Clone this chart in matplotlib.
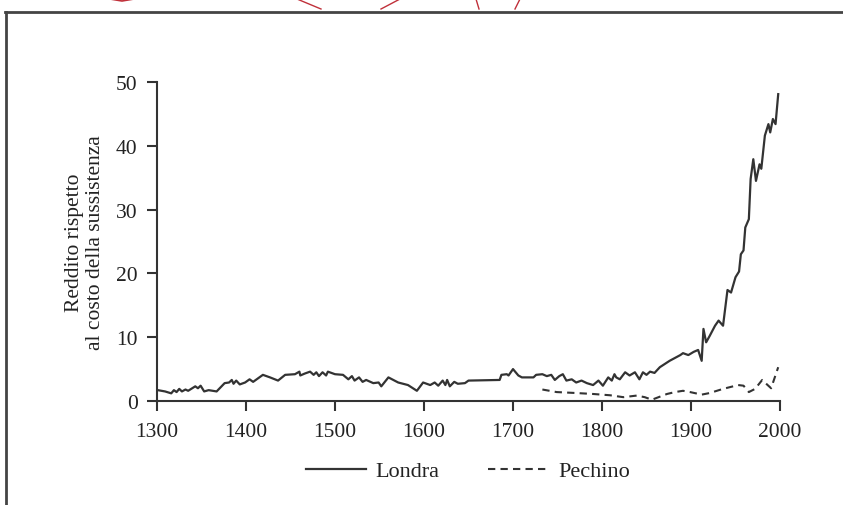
import matplotlib
matplotlib.use("Agg")
import matplotlib.pyplot as plt
from matplotlib.lines import Line2D

# Londra: reddito rispetto al costo della sussistenza
anni_londra = [1301, 1309, 1316, 1319, 1322, 1325, 1328, 1332, 1335, 1343, 1346, 1349,
               1353, 1358, 1367, 1376, 1381, 1384, 1386, 1389, 1393, 1399, 1404, 1408,
               1419, 1427, 1436, 1444, 1455, 1460, 1461, 1466, 1472, 1476, 1479, 1482,
               1486, 1490, 1492, 1500, 1509, 1515, 1519, 1522, 1527, 1531, 1535, 1543,
               1549, 1552, 1560, 1571, 1582, 1592, 1599, 1607, 1612, 1616, 1621, 1624,
               1626, 1629, 1634, 1638, 1646, 1650, 1685, 1687, 1693, 1695, 1700, 1706,
               1710, 1723, 1726, 1733, 1738, 1743, 1747, 1752, 1756, 1760, 1766, 1771,
               1777, 1783, 1790, 1796, 1801, 1807, 1811, 1814, 1816, 1820, 1826, 1831,
               1837, 1842, 1846, 1850, 1854, 1859, 1865, 1876, 1888, 1891, 1897, 1903,
               1908, 1912, 1914, 1917, 1921, 1927, 1931, 1936, 1941, 1945, 1950, 1954,
               1956, 1959, 1961, 1965, 1967, 1970, 1973, 1977, 1979, 1983, 1987, 1989,
               1992, 1995, 1998]
valori_londra = [1.7, 1.5, 1.2, 1.7, 1.4, 1.9, 1.5, 1.8, 1.6, 2.3, 2.0, 2.4,
                 1.5, 1.7, 1.5, 2.8, 2.9, 3.3, 2.7, 3.2, 2.6, 2.9, 3.4, 3.0,
                 4.1, 3.7, 3.2, 4.1, 4.2, 4.6, 4.0, 4.3, 4.6, 4.1, 4.5, 3.9,
                 4.5, 4.0, 4.6, 4.2, 4.1, 3.4, 3.9, 3.2, 3.7, 3.0, 3.3, 2.8,
                 2.9, 2.3, 3.7, 2.9, 2.5, 1.6, 2.9, 2.5, 2.9, 2.4, 3.2, 2.5,
                 3.3, 2.3, 3.0, 2.7, 2.8, 3.2, 3.3, 4.1, 4.2, 4.0, 5.0, 4.0,
                 3.7, 3.7, 4.1, 4.2, 3.9, 4.1, 3.3, 3.9, 4.2, 3.2, 3.4, 2.9,
                 3.2, 2.8, 2.5, 3.2, 2.4, 3.7, 3.2, 4.2, 3.7, 3.4, 4.5, 4.0,
                 4.5, 3.4, 4.5, 4.1, 4.6, 4.4, 5.3, 6.3, 7.2, 7.5, 7.2, 7.7,
                 8.0, 6.3, 11.3, 9.2, 10.2, 11.8, 12.6, 11.8, 17.4, 17.0, 19.4, 20.3,
                 23.0, 23.6, 27.2, 28.5, 34.8, 37.9, 34.5, 37.1, 36.4, 41.6, 43.4, 42.1,
                 44.2, 43.4, 48.1]

# Pechino
anni_pechino = [1733, 1749, 1771, 1790, 1809, 1824, 1839, 1848, 1856, 1873, 1882,
                1891, 1899, 1912, 1921, 1936, 1953, 1959, 1965, 1972, 1980, 1983,
                1990, 1998]
valori_pechino = [1.8, 1.4, 1.25, 1.1, 0.9, 0.6, 0.85, 0.6, 0.2, 1.1, 1.4,
                  1.6, 1.4, 1.0, 1.25, 1.9, 2.5, 2.4, 1.4, 1.9, 3.3, 2.9,
                  2.0, 5.3]

x_ticks = [1300, 1400, 1500, 1600, 1700, 1800, 1900, 2000]
y_ticks = [0, 10, 20, 30, 40, 50]

plt.rcParams["font.family"] = ["Liberation Serif", "DejaVu Serif"]
col = "#333333"
testo = "#222222"

fig = plt.figure(figsize=(8.43, 5.06), dpi=100)
ax = fig.add_axes([157 / 843, 1 - 402 / 506, (780 - 157) / 843, (402 - 83) / 506])

ax.plot(anni_londra, valori_londra, color=col, lw=1.6, label="Londra")
ax.plot(anni_pechino, valori_pechino, color=col, lw=1.5, ls=(0, (3.5, 2.5)),
        label="Pechino")

ax.set_xlim(1300, 2000)
ax.set_ylim(0, 50)
ax.set_xticks(x_ticks)
ax.set_yticks(y_ticks)
for s in ["top", "right"]:
    ax.spines[s].set_visible(False)
for s in ["left", "bottom"]:
    ax.spines[s].set_color(col)
    ax.spines[s].set_linewidth(1.5)
ax.tick_params(direction="out", length=7, width=1.5, color=col,
               labelsize=15.5, labelcolor=testo)
ax.tick_params(axis="x", pad=8)
ax.tick_params(axis="y", pad=7)
ax.set_ylabel("Reddito rispetto\nal costo della sussistenza", fontsize=15.5,
              color=testo, linespacing=1.1, labelpad=8)

fig.legend(loc="center", bbox_to_anchor=(0.555, 0.067), ncol=2, frameon=False,
           fontsize=16, handlelength=2.7, columnspacing=2.2, handletextpad=0.45,
           labelcolor=testo)

# cornice della pagina
fig.add_artist(Line2D([5 / 843, 1], [1 - 13 / 506] * 2, color="#444444", lw=2))
fig.add_artist(Line2D([6 / 843] * 2, [0, 1 - 13 / 506], color="#444444", lw=2))

# segni rossi in alto
rosso = "#c0303a"
fig.add_artist(Line2D([110 / 843, 122 / 843, 134 / 843], [1, 1 - 2 / 506, 1],
                      color=rosso, lw=1.2))
fig.add_artist(Line2D([297 / 843, 321 / 843], [1, 1 - 10 / 506], color=rosso, lw=1))
fig.add_artist(Line2D([381 / 843, 400 / 843], [1 - 10 / 506, 1], color=rosso, lw=1))
fig.add_artist(Line2D([476 / 843, 479 / 843], [1, 1 - 10 / 506], color=rosso, lw=1))
fig.add_artist(Line2D([515 / 843, 520 / 843], [1 - 10 / 506, 1], color=rosso, lw=1))

fig.savefig("out.png", dpi=100)
